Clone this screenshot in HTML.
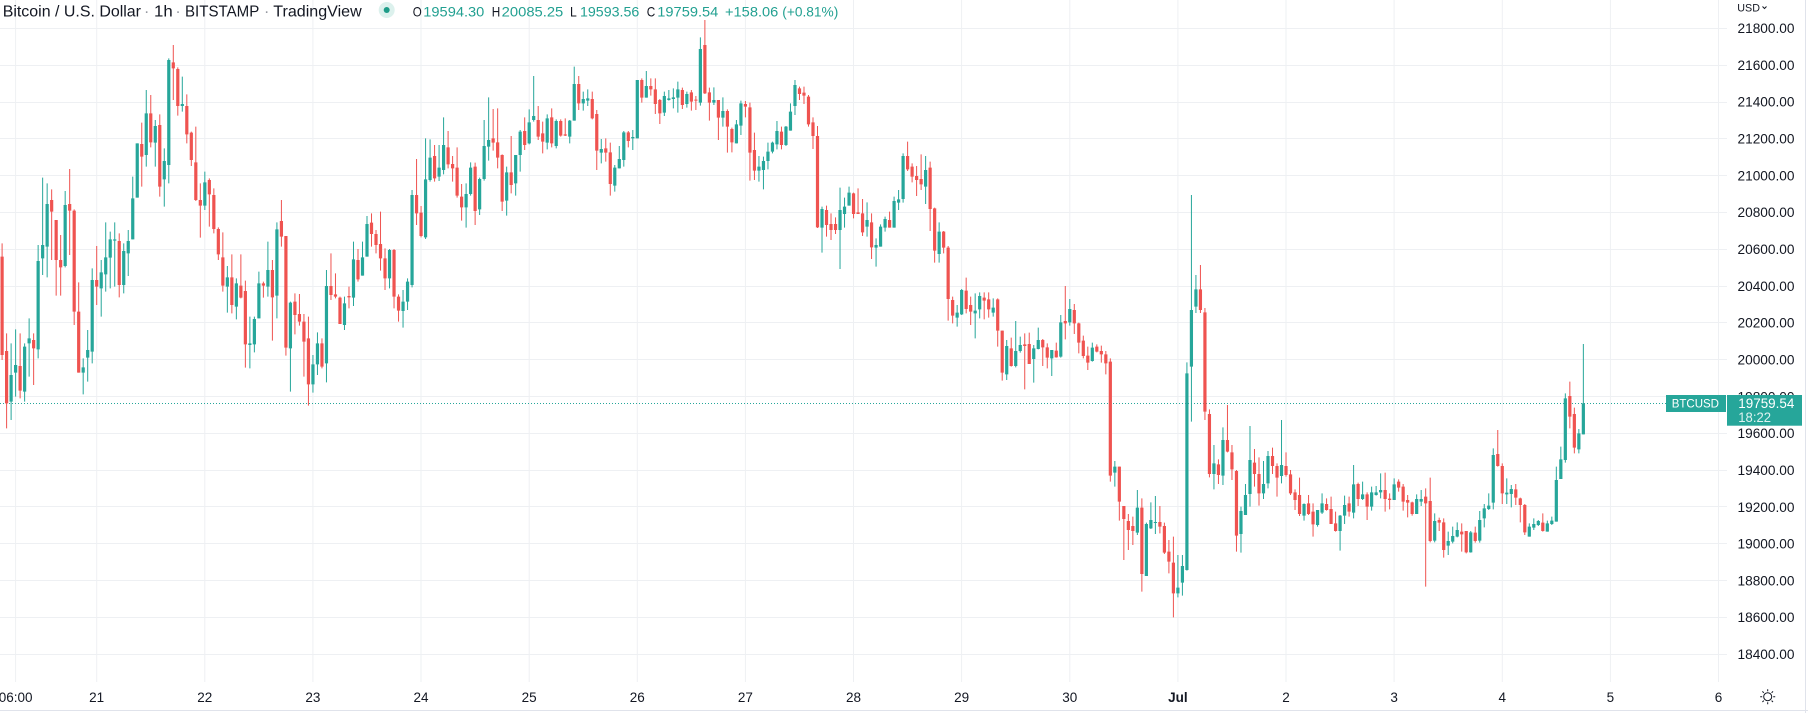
<!DOCTYPE html>
<html><head><meta charset="utf-8">
<style>
html,body{margin:0;padding:0;background:#fff;width:1808px;height:713px;overflow:hidden}
svg{display:block;font-family:"Liberation Sans",sans-serif}
.gw{stroke:#26a69a;stroke-width:1;fill:none}
.gb{stroke:#26a69a;stroke-width:3.2;fill:none}
.rw{stroke:#ef5350;stroke-width:1;fill:none}
.rb{stroke:#ef5350;stroke-width:3.2;fill:none}
.pl{font-size:13.5px;fill:#131722}
.tl{font-size:13.5px;fill:#131722;text-anchor:middle}
</style></head><body>
<svg width="1808" height="713" viewBox="0 0 1808 713" xmlns="http://www.w3.org/2000/svg">
<rect width="1808" height="713" fill="#fff"/>
<!-- horizontal grid -->
<g stroke="#eef0f3" stroke-width="1">
<line x1="0" x2="1727" y1="28.5" y2="28.5"/><line x1="0" x2="1727" y1="65.5" y2="65.5"/><line x1="0" x2="1727" y1="102.5" y2="102.5"/><line x1="0" x2="1727" y1="138.5" y2="138.5"/><line x1="0" x2="1727" y1="175.5" y2="175.5"/><line x1="0" x2="1727" y1="212.5" y2="212.5"/><line x1="0" x2="1727" y1="249.5" y2="249.5"/><line x1="0" x2="1727" y1="286.5" y2="286.5"/><line x1="0" x2="1727" y1="322.5" y2="322.5"/><line x1="0" x2="1727" y1="359.5" y2="359.5"/><line x1="0" x2="1727" y1="396.5" y2="396.5"/><line x1="0" x2="1727" y1="433.5" y2="433.5"/><line x1="0" x2="1727" y1="470.5" y2="470.5"/><line x1="0" x2="1727" y1="506.5" y2="506.5"/><line x1="0" x2="1727" y1="543.5" y2="543.5"/><line x1="0" x2="1727" y1="580.5" y2="580.5"/><line x1="0" x2="1727" y1="617.5" y2="617.5"/><line x1="0" x2="1727" y1="654.5" y2="654.5"/>
</g>
<!-- vertical grid -->
<g stroke="#eef0f3" stroke-width="1">
<line y1="0" y2="682" x1="15.6" x2="15.6"/><line y1="0" y2="682" x1="96.7" x2="96.7"/><line y1="0" y2="682" x1="204.8" x2="204.8"/><line y1="0" y2="682" x1="312.9" x2="312.9"/><line y1="0" y2="682" x1="421" x2="421"/><line y1="0" y2="682" x1="529.2" x2="529.2"/><line y1="0" y2="682" x1="637.3" x2="637.3"/><line y1="0" y2="682" x1="745.4" x2="745.4"/><line y1="0" y2="682" x1="853.5" x2="853.5"/><line y1="0" y2="682" x1="961.6" x2="961.6"/><line y1="0" y2="682" x1="1069.8" x2="1069.8"/><line y1="0" y2="682" x1="1177.9" x2="1177.9"/><line y1="0" y2="682" x1="1286" x2="1286"/><line y1="0" y2="682" x1="1394.1" x2="1394.1"/><line y1="0" y2="682" x1="1502.3" x2="1502.3"/><line y1="0" y2="682" x1="1610.4" x2="1610.4"/><line y1="0" y2="682" x1="1718.5" x2="1718.5"/>
</g>
<!-- current price dotted line -->
<line x1="0" x2="1666" y1="403.5" y2="403.5" stroke="#26a69a" stroke-width="1" stroke-dasharray="1 2"/>

<!-- Section A: candles 1-182 -->
<g transform="translate(-2.405,30) scale(4.505,0.333333)">
<path class="gw" vector-effect="non-scaling-stroke" d="M3 940V1170M4 898V1100M6 940V1115M7 865V1040M9 645V985M10 443V735M11 460V742M15 483V712M19 985V1093M20 900V1055M21 715V1000M23 690V860M24 577V785M25 605V775M26 577V770M28 640V790M29 600V738M30 440V628M31 340V503M33 180V410M35 270V410M37 355V530M38 85V460M41 140V245M46 425V540M51 708V848M53 745V868M56 860V1015M57 860V967M58 725V865M60 635V800M62 577V865M65 815V1085M70 975V1088M71 907V1035M73 720V1057M77 800V900M79 635V828M81 635V737M82 558V680M87 657V775M90 780V893M91 745V840M92 480V772M95 325V627M96 328V455M98 345V453M99 262V433M104 460V593M105 397V497M107 443V555M108 270V452M109 202V392M113 410V557M115 375V497M116 300V425M118 238V343M119 138V275M122 253V358M124 268V355M127 270V340M128 110V272M130 185V242M131 178V228M134 327V400M137 405V485M138 348V415M139 303V410M141 300V360M142 150V325M144 123V203M148 185V258M149 180V212M150 175V235M151 155V248M153 185V233M156 22V227M159 172V225M161 202V290M164 270V340M165 212V315M169 378V455M170 380V478M171 338V418M172 335V370M173 273V358M175 288V348M176 220V302M177 150V255"/>
<path class="gb" vector-effect="non-scaling-stroke" d="M3 1035V1115M4 1005V1028M6 950V1085M7 925V940M9 693V958M10 645V685M11 522V650M15 525V708M19 1012V1028M20 960V983M21 750V965M23 727V775M24 682V733M25 628V683M26 628V632M28 663V765M29 633V670M30 505V628M31 340V503M33 250V375M35 288V338M37 393V448M38 90V405M41 222V228M46 457V527M51 742V770M53 760V830M56 940V945M57 867V943M58 760V865M60 720V770M62 598V797M65 818V955M70 1003V1063M71 940V1003M73 768V1000M77 820V885M79 688V803M81 682V737M82 582V680M87 660V745M90 815V843M91 755V815M92 495V765M95 448V622M96 383V450M98 413V440M99 345V420M104 492V532M105 413V492M107 447V538M108 348V447M109 330V350M113 427V512M115 375V460M116 305V375M118 277V340M119 258V270M122 265V338M124 273V348M127 272V320M128 162V272M130 207V220M131 205V212M134 357V368M137 413V467M138 387V415M139 307V390M141 321V325M142 150V325M144 168V203M148 198V248M149 205V210M150 202V207M151 178V203M153 192V222M156 57V218M159 210V218M161 243V263M164 283V340M165 220V287M169 410V422M170 393V420M171 365V393M172 338V365M173 303V343M175 290V345M176 245V302M177 165V228"/>
<path class="rw" vector-effect="non-scaling-stroke" d="M1 640V990M2 910V1195M5 910V1105M8 910V1065M12 478V690M13 570V797M14 615V797M16 417V675M17 538V885M18 757V1028M22 648V825M27 610V802M32 278V470M34 195V352M36 253V500M39 45V210M40 112V257M42 193V340M43 305V408M44 290V513M45 460V623M47 445V590M48 475V610M49 592V690M50 607V785M52 673V850M54 673V805M55 752V1013M59 755V803M61 690V932M63 510V650M64 618V977M66 790V913M67 792V887M68 852V1040M69 860V1127M72 925V1015M74 670V810M75 730V805M76 800V882M78 770V835M80 657V755M83 550V650M84 600V670M85 545V722M86 655V780M88 657V835M89 793V875M93 387V585M94 528V622M97 345V455M100 303V415M101 378V455M102 352V503M103 462V572M106 398V585M110 237V362M111 235V415M112 373V543M114 318V490M117 262V360M120 228V330M121 275V370M123 235V352M125 268V320M126 265V318M129 138V240M132 185V268M133 240V420M135 325V395M136 338V497M140 303V352M143 145V218M145 145V197M146 145V252M147 207V282M152 173V237M154 180V242M155 198V240M157 -30V192M158 173V272M160 210V330M162 238V368M163 293V367M166 213V262M167 218V452M168 308V450M174 290V358M178 170V210M179 170V222M180 195V290M181 262V357M182 288V594"/>
<path class="rb" vector-effect="non-scaling-stroke" d="M1 680V975M2 963V1120M5 1008V1082M8 930V955M12 510V545M13 570V690M14 690V712M16 522V542M17 542V845M18 845V1028M22 750V770M27 633V765M32 342V380M34 250V337M36 285V470M39 97V115M40 117V228M42 228V313M43 308V390M44 397V510M45 510V527M47 450V493M48 495V597M49 597V673M50 682V767M52 742V825M54 767V803M55 783V943M59 760V767M61 720V802M63 573V620M64 618V953M66 815V855M67 852V875M68 875V935M69 925V1063M72 940V1010M74 768V795M75 793V800M76 803V882M78 798V802M80 690V748M83 578V612M84 612V645M85 642V685M86 685V745M88 660V800M89 800V842M93 495V550M94 548V618M97 378V445M100 352V403M101 402V415M102 413V497M103 500V532M106 410V543M110 325V338M111 337V383M112 375V515M114 427V465M117 303V345M120 270V320M121 310V335M123 262V340M125 273V317M126 313V317M129 162V220M132 207V265M133 252V362M135 355V368M136 367V462M140 307V333M143 150V203M145 168V178M146 178V222M147 210V250M152 180V225M154 187V215M155 209V212M157 45V190M158 187V218M160 210V263M162 243V290M163 297V337M166 222V230M167 232V368M168 360V422M174 305V345M178 175V192M179 188V197M180 200V283M181 277V318M182 318V592"/>
</g>

<!-- Section B: candles 183-246 -->
<g transform="translate(-2.405,60) scale(4.505,0.333333)">
<path class="gw" vector-effect="non-scaling-stroke" d="M183 440V578M187 383V627M188 413V503M189 380V437M193 427V530M195 535V620M196 493V560M197 470V515M199 410V503M200 390V450M201 280V428M206 288V432M209 487V608M213 735V800M214 687V765M217 700V835M218 697V775M221 715V770M224 840V960M226 783V922M227 830V878M230 855V968M231 803V868M234 870V948M236 765V893M238 717V797M243 848V905"/>
<path class="gb" vector-effect="non-scaling-stroke" d="M183 447V503M187 450V510M188 440V462M189 398V437M193 480V500M195 555V563M196 500V560M197 477V503M199 423V503M200 418V428M201 288V417M206 330V380M209 515V582M213 758V773M214 690V763M217 752V760M218 708V748M221 743V758M224 858V943M226 873V918M227 855V873M230 865V897M231 840V867M234 870V895M236 787V890M238 747V787M243 863V903"/>
<path class="rw" vector-effect="non-scaling-stroke" d="M184 437V530M185 460V540M186 472V522M190 398V475M191 385V462M192 417V528M194 460V597M198 455V503M202 245V333M203 310V367M204 318V408M205 283V390M207 305V513M208 443V608M210 513V580M211 558V782M212 710V790M215 653V760M216 710V795M219 697V778M220 697V773M222 715V860M223 812V962M225 833V920M228 820V988M229 818V912M232 837V918M233 850V925M235 848V893M237 678V838M239 732V822M240 788V880M241 827V895M242 860V930M244 853V877M245 857V908M246 873V943"/>
<path class="rb" vector-effect="non-scaling-stroke" d="M184 450V495M185 492V510M186 492V510M190 400V462M191 457V462M192 460V517M194 487V562M198 480V503M202 288V328M203 320V350M204 348V360M205 357V373M207 323V447M208 445V572M210 515V563M211 563V717M212 720V767M215 692V747M216 735V755M219 713V722M220 718V748M222 718V812M223 812V938M225 865V918M228 853V858M229 852V912M232 840V862M233 862V893M235 872V892M237 783V790M239 750V790M240 790V848M241 842V888M242 887V908M244 860V875M245 873V883M246 883V910"/>
</g>

<!-- Section C: candles 247-352 -->
<g transform="translate(-2.405,330) scale(4.505,0.333333)">
<path class="gw" vector-effect="non-scaling-stroke" d="M248 393V470M253 480V615M255 578V738M256 517V597M257 498V612M262 675V802M263 675V797M264 97V722M265 -405V275M266 -165V-51M270 345V478M272 292V465M276 530V668M277 462V555M278 288V530M281 393V507M282 363V475M285 270V460M290 520V572M293 540V590M294 490V552M298 555V662M299 497V582M301 405V565M303 455V510M305 470V542M306 468V497M307 430V505M310 445V510M315 493V552M316 480V528M319 550V637M322 605V675M323 590V640M324 577V622M327 603V668M329 543V638M330 522V592M331 490V540M332 355V538M335 445V522M336 465V532M340 580V620M341 565V600M342 570V588M344 572V605M345 560V585M346 410V575M347 350V447M348 190V398M351 297V370M352 42V313"/>
<path class="gb" vector-effect="non-scaling-stroke" d="M248 410V428M253 533V608M255 582V738M256 570V595M257 576V579M262 773V790M263 708V758M264 130V720M265 -60V110M266 -122V-70M270 400V432M272 330V437M276 543V612M277 495V555M278 390V492M281 462V490M282 378V460M285 405V438M290 522V557M293 540V585M294 520V548M298 557V603M299 525V557M301 463V548M303 493V507M305 487V530M306 487V495M307 480V487M310 463V510M315 507V552M316 507V515M319 573V632M322 633V647M323 618V635M324 600V620M327 607V667M329 570V632M330 535V565M331 527V537M332 375V518M335 488V493M336 477V492M340 590V620M341 582V593M342 573V585M344 580V605M345 572V582M346 450V575M347 388V447M348 205V390M351 310V358M352 220V313"/>
<path class="rw" vector-effect="non-scaling-stroke" d="M247 85V455M249 410V572M250 528V690M251 552V660M252 560V645M254 505V785M258 528V610M259 578V672M260 630V730M261 620V862M267 -195V-51M268 -66V270M269 238V442M271 388V462M273 225V367M274 345V450M275 420V665M279 357V470M280 382V527M283 353V432M284 400V500M286 367V440M287 420V495M288 478V540M289 443V558M291 495V555M292 520V620M295 505V542M296 500V582M297 545V605M300 500V560M302 458V528M304 487V570M308 428V545M309 490V538M311 448V485M312 462V542M313 495V562M314 515V557M317 475V770M318 443V637M320 563V603M321 565V683M325 580V665M326 603V670M328 590V638M333 300V410M334 400V522M337 462V525M338 503V577M339 522V615M343 550V605M349 155V295M350 233V370"/>
<path class="rb" vector-effect="non-scaling-stroke" d="M247 95V437M249 410V515M250 528V567M251 573V600M252 588V603M254 533V732M258 576V590M259 588V668M260 665V695M261 698V790M267 -122V-60M268 -53V245M269 252V432M271 403V435M273 330V365M274 367V418M275 423V617M279 398V432M280 432V490M283 378V408M284 408V443M286 408V435M287 433V490M288 487V510M289 495V552M291 520V552M292 545V583M295 522V540M296 537V582M297 580V603M300 520V545M302 462V507M304 493V530M308 480V507M309 506V510M311 455V473M312 470V515M313 510V518M314 517V552M317 500V520M318 513V633M320 570V578M321 577V660M325 605V613M326 603V667M328 608V633M333 372V408M334 408V490M337 478V503M338 505V525M339 525V607M343 578V603M349 198V260M350 252V353"/>
</g>

<!-- header legend -->
<g font-size="16" fill="#131722">
<text x="2.7" y="16.7" textLength="138.3" lengthAdjust="spacingAndGlyphs">Bitcoin / U.S. Dollar</text>
<text x="146.7" y="16.7" fill="#9598a1" text-anchor="middle">·</text>
<text x="154" y="16.7" textLength="18.7" lengthAdjust="spacingAndGlyphs">1h</text>
<text x="178" y="16.7" fill="#9598a1" text-anchor="middle">·</text>
<text x="185" y="16.7" textLength="74.3" lengthAdjust="spacingAndGlyphs">BITSTAMP</text>
<text x="266.7" y="16.7" fill="#9598a1" text-anchor="middle">·</text>
<text x="273.3" y="16.7" textLength="88.4" lengthAdjust="spacingAndGlyphs">TradingView</text>
</g>
<circle cx="386.7" cy="10" r="8" fill="#dcf1ed"/>
<circle cx="386.7" cy="10" r="3" fill="#1e9c88"/>
<g font-size="14" fill="#22a091">
<text x="412.7" y="16.7" fill="#131722" textLength="9" lengthAdjust="spacingAndGlyphs">O</text>
<text x="423.3" y="16.7" textLength="61" lengthAdjust="spacingAndGlyphs">19594.30</text>
<text x="491.7" y="16.7" fill="#131722" textLength="8.5" lengthAdjust="spacingAndGlyphs">H</text>
<text x="501.7" y="16.7" textLength="61.6" lengthAdjust="spacingAndGlyphs">20085.25</text>
<text x="570" y="16.7" fill="#131722" textLength="6.8" lengthAdjust="spacingAndGlyphs">L</text>
<text x="580" y="16.7" textLength="59.3" lengthAdjust="spacingAndGlyphs">19593.56</text>
<text x="646.7" y="16.7" fill="#131722" textLength="8.5" lengthAdjust="spacingAndGlyphs">C</text>
<text x="657.3" y="16.7" textLength="61" lengthAdjust="spacingAndGlyphs">19759.54</text>
<text x="725" y="16.7" textLength="53.3" lengthAdjust="spacingAndGlyphs">+158.06</text>
<text x="782.3" y="16.7" textLength="56" lengthAdjust="spacingAndGlyphs">(+0.81%)</text>
</g>

<!-- price axis -->
<text x="1737.3" y="11.7" font-size="11" fill="#131722" textLength="22.7" lengthAdjust="spacingAndGlyphs">USD</text>
<path d="M1762.5 6.5 L1764.5 8.5 L1766.5 6.5" stroke="#131722" stroke-width="1" fill="none"/>
<g class="pl">
<text class="pl" x="1737.5" y="33.1" textLength="57" lengthAdjust="spacingAndGlyphs">21800.00</text>
<text class="pl" x="1737.5" y="69.9" textLength="57" lengthAdjust="spacingAndGlyphs">21600.00</text>
<text class="pl" x="1737.5" y="106.7" textLength="57" lengthAdjust="spacingAndGlyphs">21400.00</text>
<text class="pl" x="1737.5" y="143.6" textLength="57" lengthAdjust="spacingAndGlyphs">21200.00</text>
<text class="pl" x="1737.5" y="180.4" textLength="57" lengthAdjust="spacingAndGlyphs">21000.00</text>
<text class="pl" x="1737.5" y="217.2" textLength="57" lengthAdjust="spacingAndGlyphs">20800.00</text>
<text class="pl" x="1737.5" y="254.0" textLength="57" lengthAdjust="spacingAndGlyphs">20600.00</text>
<text class="pl" x="1737.5" y="290.8" textLength="57" lengthAdjust="spacingAndGlyphs">20400.00</text>
<text class="pl" x="1737.5" y="327.7" textLength="57" lengthAdjust="spacingAndGlyphs">20200.00</text>
<text class="pl" x="1737.5" y="364.5" textLength="57" lengthAdjust="spacingAndGlyphs">20000.00</text>
<text class="pl" x="1737.5" y="401.3" textLength="57" lengthAdjust="spacingAndGlyphs">19800.00</text>
<text class="pl" x="1737.5" y="438.1" textLength="57" lengthAdjust="spacingAndGlyphs">19600.00</text>
<text class="pl" x="1737.5" y="474.9" textLength="57" lengthAdjust="spacingAndGlyphs">19400.00</text>
<text class="pl" x="1737.5" y="511.8" textLength="57" lengthAdjust="spacingAndGlyphs">19200.00</text>
<text class="pl" x="1737.5" y="548.6" textLength="57" lengthAdjust="spacingAndGlyphs">19000.00</text>
<text class="pl" x="1737.5" y="585.4" textLength="57" lengthAdjust="spacingAndGlyphs">18800.00</text>
<text class="pl" x="1737.5" y="622.2" textLength="57" lengthAdjust="spacingAndGlyphs">18600.00</text>
<text class="pl" x="1737.5" y="659.0" textLength="57" lengthAdjust="spacingAndGlyphs">18400.00</text>
</g>

<!-- price labels -->
<rect x="1666" y="395" width="60" height="17" fill="#26a69a"/>
<text x="1671.7" y="407.7" font-size="12" fill="#fff" textLength="47.3" lengthAdjust="spacingAndGlyphs">BTCUSD</text>
<rect x="1727" y="395" width="75" height="30.7" fill="#26a69a"/>
<text x="1738.3" y="408" font-size="13.5" fill="#fff" textLength="56" lengthAdjust="spacingAndGlyphs">19759.54</text>
<text x="1738.3" y="422" font-size="13.5" fill="#fff" fill-opacity="0.85" textLength="32.7" lengthAdjust="spacingAndGlyphs">18:22</text>

<!-- time axis -->
<g>
<text class="tl" x="15.6" y="701.8">06:00</text>
<text class="tl" x="96.7" y="701.8">21</text>
<text class="tl" x="204.8" y="701.8">22</text>
<text class="tl" x="312.9" y="701.8">23</text>
<text class="tl" x="421" y="701.8">24</text>
<text class="tl" x="529.2" y="701.8">25</text>
<text class="tl" x="637.3" y="701.8">26</text>
<text class="tl" x="745.4" y="701.8">27</text>
<text class="tl" x="853.5" y="701.8">28</text>
<text class="tl" x="961.6" y="701.8">29</text>
<text class="tl" x="1069.8" y="701.8">30</text>
<text class="tl" x="1177.9" y="701.8" font-weight="bold">Jul</text>
<text class="tl" x="1286" y="701.8">2</text>
<text class="tl" x="1394.1" y="701.8">3</text>
<text class="tl" x="1502.3" y="701.8">4</text>
<text class="tl" x="1610.4" y="701.8">5</text>
<text class="tl" x="1718.5" y="701.8">6</text>
</g>

<!-- settings/sun icon -->
<g stroke="#131722" stroke-width="1" fill="none">
<circle cx="1767.7" cy="696.7" r="4"/>
<path d="M1767.7 689.2V691.2M1767.7 702.2V704.2M1760.2 696.7H1762.2M1773.2 696.7H1775.2M1762.4 691.4L1763.8 692.8M1771.6 700.6L1773 702M1762.4 702L1763.8 700.6M1771.6 692.8L1773 691.4"/>
</g>

<!-- frame borders -->
<line x1="0" x2="1808" y1="710.5" y2="710.5" stroke="#e0e3eb" stroke-width="1"/>
<line x1="1805.5" x2="1805.5" y1="0" y2="713" stroke="#e0e3eb" stroke-width="1"/>
</svg>
</body></html>
